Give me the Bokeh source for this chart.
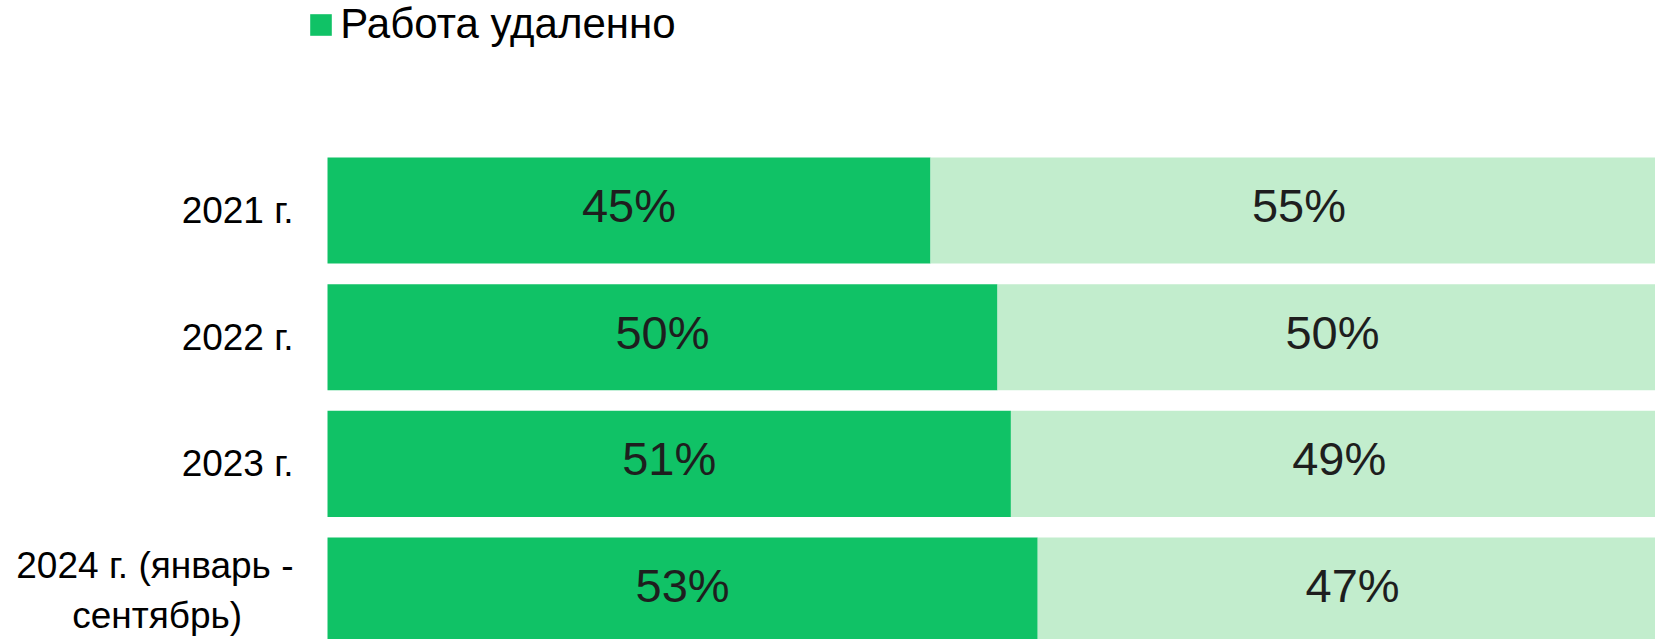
from bokeh.plotting import figure
from bokeh.models import Range1d, FixedTicker, Legend, LegendItem, ColumnDataSource
from bokeh.core.properties import value
from bokeh.embed import file_html
from bokeh.resources import INLINE

categories = ["2021 г.", "2022 г.", "2023 г.", "2024 г. (январь -\nсентябрь)\u00a0\u00a0\u00a0\u00a0\u00a0"]
remote = [45, 50, 51, 53]
office = [55, 50, 49, 47]
series_names = ["Работа удаленно", "Работа в офисе"]

DARK = "#10C266"
LIGHT = "#C2EDCD"
FONT = "Liberation Sans"

n = len(categories)
ypos = [n - 1 - i for i in range(n)]

src = ColumnDataSource(dict(
    y=ypos,
    remote=remote,
    office=office,
    total=[r + o for r, o in zip(remote, office)],
    remote_mid=[r / 2 for r in remote],
    office_mid=[r + o / 2 for r, o in zip(remote, office)],
    remote_lbl=[f"{v}%" for v in remote],
    office_lbl=[f"{v}%" for v in office],
))

p = figure(width=1655, height=639, output_backend="svg", toolbar_location=None,
           x_range=Range1d(-1.269, 99.104), y_range=Range1d(-0.386, 4.657),
           min_border_left=310, min_border_right=0, min_border_top=0, min_border_bottom=0)

bh = 0.837
r1 = p.hbar(y="y", left=0, right="remote", height=bh, color=DARK, source=src, line_color=None)
r2 = p.hbar(y="y", left="remote", right="total", height=bh, color=LIGHT, source=src, line_color=None)

for xcol, tcol in (("remote_mid", "remote_lbl"), ("office_mid", "office_lbl")):
    p.text(x=xcol, y="y", text=tcol, source=src, text_align="center", text_baseline="middle",
           y_offset=-5, text_font=value(FONT), text_font_size="47px", text_color="#1E1E1E")

p.xaxis.visible = False
p.xgrid.visible = False
p.ygrid.visible = False
p.outline_line_color = None

ax = p.yaxis[0]
ax.ticker = FixedTicker(ticks=ypos)
ax.major_label_overrides = {y: c for y, c in zip(ypos, categories)}
ax.axis_line_color = None
ax.major_tick_line_color = None
ax.minor_tick_line_color = None
ax.major_label_standoff = 11
ax.major_label_text_font = FONT
ax.major_label_text_font_size = "37px"
ax.major_label_text_color = "#000000"

legend = Legend(items=[LegendItem(label=series_names[0], renderers=[r1], index=0)],
                location=(-2.75, 591), orientation="horizontal",
                glyph_width=27, glyph_height=27, label_standoff=6,
                padding=0, margin=0, spacing=0,
                border_line_color=None, background_fill_alpha=0,
                label_text_font=FONT, label_text_font_size="42px",
                label_text_color="#000000", label_text_baseline="middle")
p.add_layout(legend, "center")

open("out.html", "w").write(file_html(p, INLINE))
